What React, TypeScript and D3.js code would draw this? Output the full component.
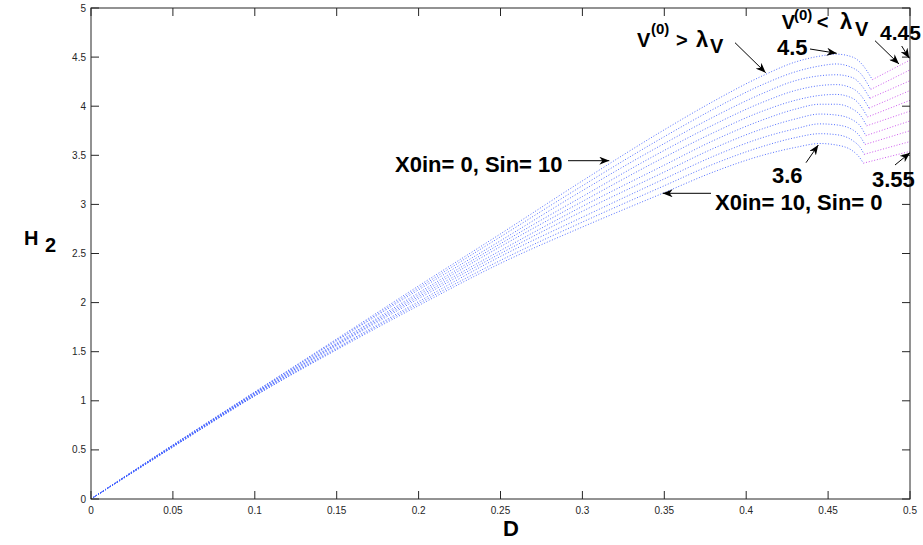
import React from 'react';
import * as d3 from 'd3';

const WIDTH = 923;
const HEIGHT = 545;

// Shared D grid for the blue (V(0) > λV) part of every curve
const dGrid = [0, 0.05, 0.1, 0.15, 0.2, 0.25, 0.3, 0.35, 0.38, 0.41, 0.43, 0.445, 0.455, 0.465, 0.47];

// H2 values on dGrid, bottom curve (X0in=10, Sin=0) to top curve (X0in=0, Sin=10)
const h2Curve0 = [0, 0.53, 1.05, 1.52, 1.97, 2.40, 2.77, 3.12, 3.33, 3.50, 3.58, 3.62, 3.605, 3.545, 3.46];
const h2Curve1 = [0, 0.53, 1.05, 1.53, 1.99, 2.43, 2.82, 3.19, 3.41, 3.59, 3.68, 3.72, 3.71, 3.65, 3.57];
const h2Curve2 = [0, 0.53, 1.06, 1.54, 2.01, 2.47, 2.87, 3.26, 3.49, 3.68, 3.77, 3.82, 3.81, 3.76, 3.68];
const h2Curve3 = [0, 0.54, 1.06, 1.56, 2.04, 2.50, 2.93, 3.33, 3.57, 3.77, 3.87, 3.92, 3.91, 3.86, 3.79];
const h2Curve4 = [0, 0.54, 1.07, 1.57, 2.06, 2.53, 2.98, 3.40, 3.65, 3.86, 3.97, 4.02, 4.02, 3.97, 3.90];
const h2Curve5 = [0, 0.54, 1.07, 1.58, 2.08, 2.57, 3.03, 3.48, 3.73, 3.95, 4.06, 4.11, 4.12, 4.08, 4.00];
const h2Curve6 = [0, 0.54, 1.08, 1.59, 2.10, 2.60, 3.08, 3.55, 3.81, 4.04, 4.16, 4.21, 4.22, 4.18, 4.11];
const h2Curve7 = [0, 0.55, 1.08, 1.61, 2.13, 2.63, 3.14, 3.62, 3.89, 4.13, 4.26, 4.31, 4.32, 4.29, 4.22];
const h2Curve8 = [0, 0.55, 1.09, 1.62, 2.15, 2.67, 3.19, 3.69, 3.97, 4.22, 4.35, 4.41, 4.43, 4.39, 4.33];
const h2Curve9 = [0, 0.55, 1.09, 1.63, 2.17, 2.70, 3.24, 3.76, 4.05, 4.31, 4.45, 4.51, 4.53, 4.50, 4.44];

// Dip (switch point) of each curve, then the magenta (V(0) < λV) part ends at D = 0.5
const dipD = [0.4715, 0.472, 0.4725, 0.473, 0.4735, 0.474, 0.475, 0.4755, 0.476, 0.477];
const dipH = [3.42, 3.51, 3.61, 3.70, 3.80, 3.89, 3.98, 4.08, 4.17, 4.27];
const endD = 0.5;
const endH = [3.54, 3.64, 3.75, 3.85, 3.95, 4.06, 4.16, 4.26, 4.37, 4.47];

const xTicks = [0, 0.05, 0.1, 0.15, 0.2, 0.25, 0.3, 0.35, 0.4, 0.45, 0.5];
const xTickLabels = ['0', '0.05', '0.1', '0.15', '0.2', '0.25', '0.3', '0.35', '0.4', '0.45', '0.5'];
const yTicks = [0, 0.5, 1, 1.5, 2, 2.5, 3, 3.5, 4, 4.5, 5];
const yTickLabels = ['0', '0.5', '1', '1.5', '2', '2.5', '3', '3.5', '4', '4.5', '5'];

const curves = [h2Curve0, h2Curve1, h2Curve2, h2Curve3, h2Curve4, h2Curve5, h2Curve6, h2Curve7, h2Curve8, h2Curve9];

const PLOT = { left: 91, right: 910, top: 8, bottom: 499 };

export default function App() {
  const x = d3.scaleLinear().domain([0, 0.5]).range([PLOT.left, PLOT.right]);
  const y = d3.scaleLinear().domain([0, 5]).range([PLOT.bottom, PLOT.top]);
  const line = d3
    .line<[number, number]>()
    .x((d) => x(d[0]))
    .y((d) => y(d[1]))
    .curve(d3.curveMonotoneX);
  const straight = d3
    .line<[number, number]>()
    .x((d) => x(d[0]))
    .y((d) => y(d[1]));

  const font = '"Liberation Sans", Arial, Helvetica, sans-serif';
  const tickLen = 8;
  const big = 22;

  const arrows: [number, number, number, number][] = [
    [735, 42.7, 765.7, 72.7],
    [810, 49, 836.7, 53.3],
    [875, 40.7, 899, 64],
    [901.7, 46, 909.3, 58.3],
    [568, 160.7, 609.3, 160.7],
    [711, 193.3, 662.7, 193.3],
    [806, 162.7, 818.3, 145],
    [895, 165, 910, 152.7],
  ];

  const bold = { fontFamily: font, fontWeight: 700 as const, fill: '#000' };

  return (
    <svg
      width={WIDTH}
      height={HEIGHT}
      style={{ position: 'absolute', left: 0, top: 0, background: '#fff' }}
    >
      <defs>
        <marker
          id="ah"
          viewBox="0 0 10 8"
          refX="10"
          refY="4"
          markerWidth="10"
          markerHeight="8"
          markerUnits="userSpaceOnUse"
          orient="auto"
        >
          <path d="M0,0 L10,4 L0,8 L3,4 z" fill="#000" />
        </marker>
        <clipPath id="plotclip">
          <rect x={PLOT.left} y={PLOT.top} width={PLOT.right - PLOT.left} height={PLOT.bottom - PLOT.top} />
        </clipPath>
      </defs>
      <rect x={0} y={0} width={WIDTH} height={HEIGHT} fill="#fff" />

      {/* curves */}
      <g clipPath="url(#plotclip)" fill="none">
        {curves.map((vals, i) => {
          const pts: [number, number][] = dGrid.map((d, k) => [d, vals[k]] as [number, number]);
          pts.push([dipD[i], dipH[i]]);
          return (
            <path
              key={'b' + i}
              d={line(pts) || ''}
              stroke="#3f5fff"
              strokeWidth={0.9}
              strokeDasharray="1 1.8"
            />
          );
        })}
        {curves.map((_, i) => {
          const pts: [number, number][] = [
            [dipD[i], dipH[i]],
            [endD, endH[i]],
          ];
          return (
            <path
              key={'m' + i}
              d={straight(pts) || ''}
              stroke="#c848ec"
              strokeWidth={0.9}
              strokeDasharray="1 1.8"
            />
          );
        })}
      </g>

      {/* axes box */}
      <rect
        x={PLOT.left}
        y={PLOT.top}
        width={PLOT.right - PLOT.left}
        height={PLOT.bottom - PLOT.top}
        fill="none"
        stroke="#262626"
        strokeWidth={1}
      />
      {xTicks.map((t, i) => (
        <g key={'xt' + i}>
          <line x1={x(t)} x2={x(t)} y1={PLOT.bottom} y2={PLOT.bottom - tickLen} stroke="#262626" />
          <line x1={x(t)} x2={x(t)} y1={PLOT.top} y2={PLOT.top + tickLen} stroke="#262626" />
          <text
            x={x(t)}
            y={PLOT.bottom + 15}
            textAnchor="middle"
            fontFamily={font}
            fontSize={10}
            fill="#262626"
          >
            {xTickLabels[i]}
          </text>
        </g>
      ))}
      {yTicks.map((t, i) => (
        <g key={'yt' + i}>
          <line x1={PLOT.left} x2={PLOT.left + tickLen} y1={y(t)} y2={y(t)} stroke="#262626" />
          <line x1={PLOT.right} x2={PLOT.right - tickLen} y1={y(t)} y2={y(t)} stroke="#262626" />
          <text
            x={PLOT.left - 5}
            y={y(t) + 3.5}
            textAnchor="end"
            fontFamily={font}
            fontSize={10}
            fill="#262626"
          >
            {yTickLabels[i]}
          </text>
        </g>
      ))}

      {/* axis labels */}
      <text x={503} y={536} fontSize={big} {...bold}>D</text>
      <text x={24} y={245} fontSize={20} {...bold}>H</text>
      <text x={45} y={252} fontSize={20} {...bold}>2</text>

      {/* annotations */}
      {arrows.map((a, i) => (
        <line
          key={'ar' + i}
          x1={a[0]}
          y1={a[1]}
          x2={a[2]}
          y2={a[3]}
          stroke="#000"
          strokeWidth={1}
          markerEnd="url(#ah)"
        />
      ))}
      <text x={395} y={171.5} fontSize={big} {...bold}>X0in= 0, Sin= 10</text>
      <text x={715} y={210} fontSize={big} {...bold}>X0in= 10, Sin= 0</text>
      <text x={772} y={183} fontSize={big} {...bold}>3.6</text>
      <text x={872} y={186.7} fontSize={big} {...bold}>3.55</text>
      <text x={777} y={55} fontSize={big} {...bold}>4.5</text>
      <text x={880} y={39.5} fontSize={21} {...bold}>4.45</text>

      {/* V(0) > λV */}
      <text x={637} y={46.7} fontSize={20} {...bold}>V</text>
      <text x={651} y={34} fontSize={15} {...bold}>(0)</text>
      <text x={676} y={46.7} fontSize={20} {...bold}>&gt;</text>
      <text x={696} y={46.7} fontSize={22} {...bold}>λ</text>
      <text x={710} y={53.3} fontSize={20} {...bold}>V</text>

      {/* V(0) < λV */}
      <text x={781.7} y={29.3} fontSize={20} {...bold}>V</text>
      <text x={794} y={19.5} fontSize={15} {...bold}>(0)</text>
      <text x={816.7} y={29.3} fontSize={20} {...bold}>&lt;</text>
      <text x={840} y={29.3} fontSize={22} {...bold}>λ</text>
      <text x={855} y={36} fontSize={20} {...bold}>V</text>
    </svg>
  );
}
